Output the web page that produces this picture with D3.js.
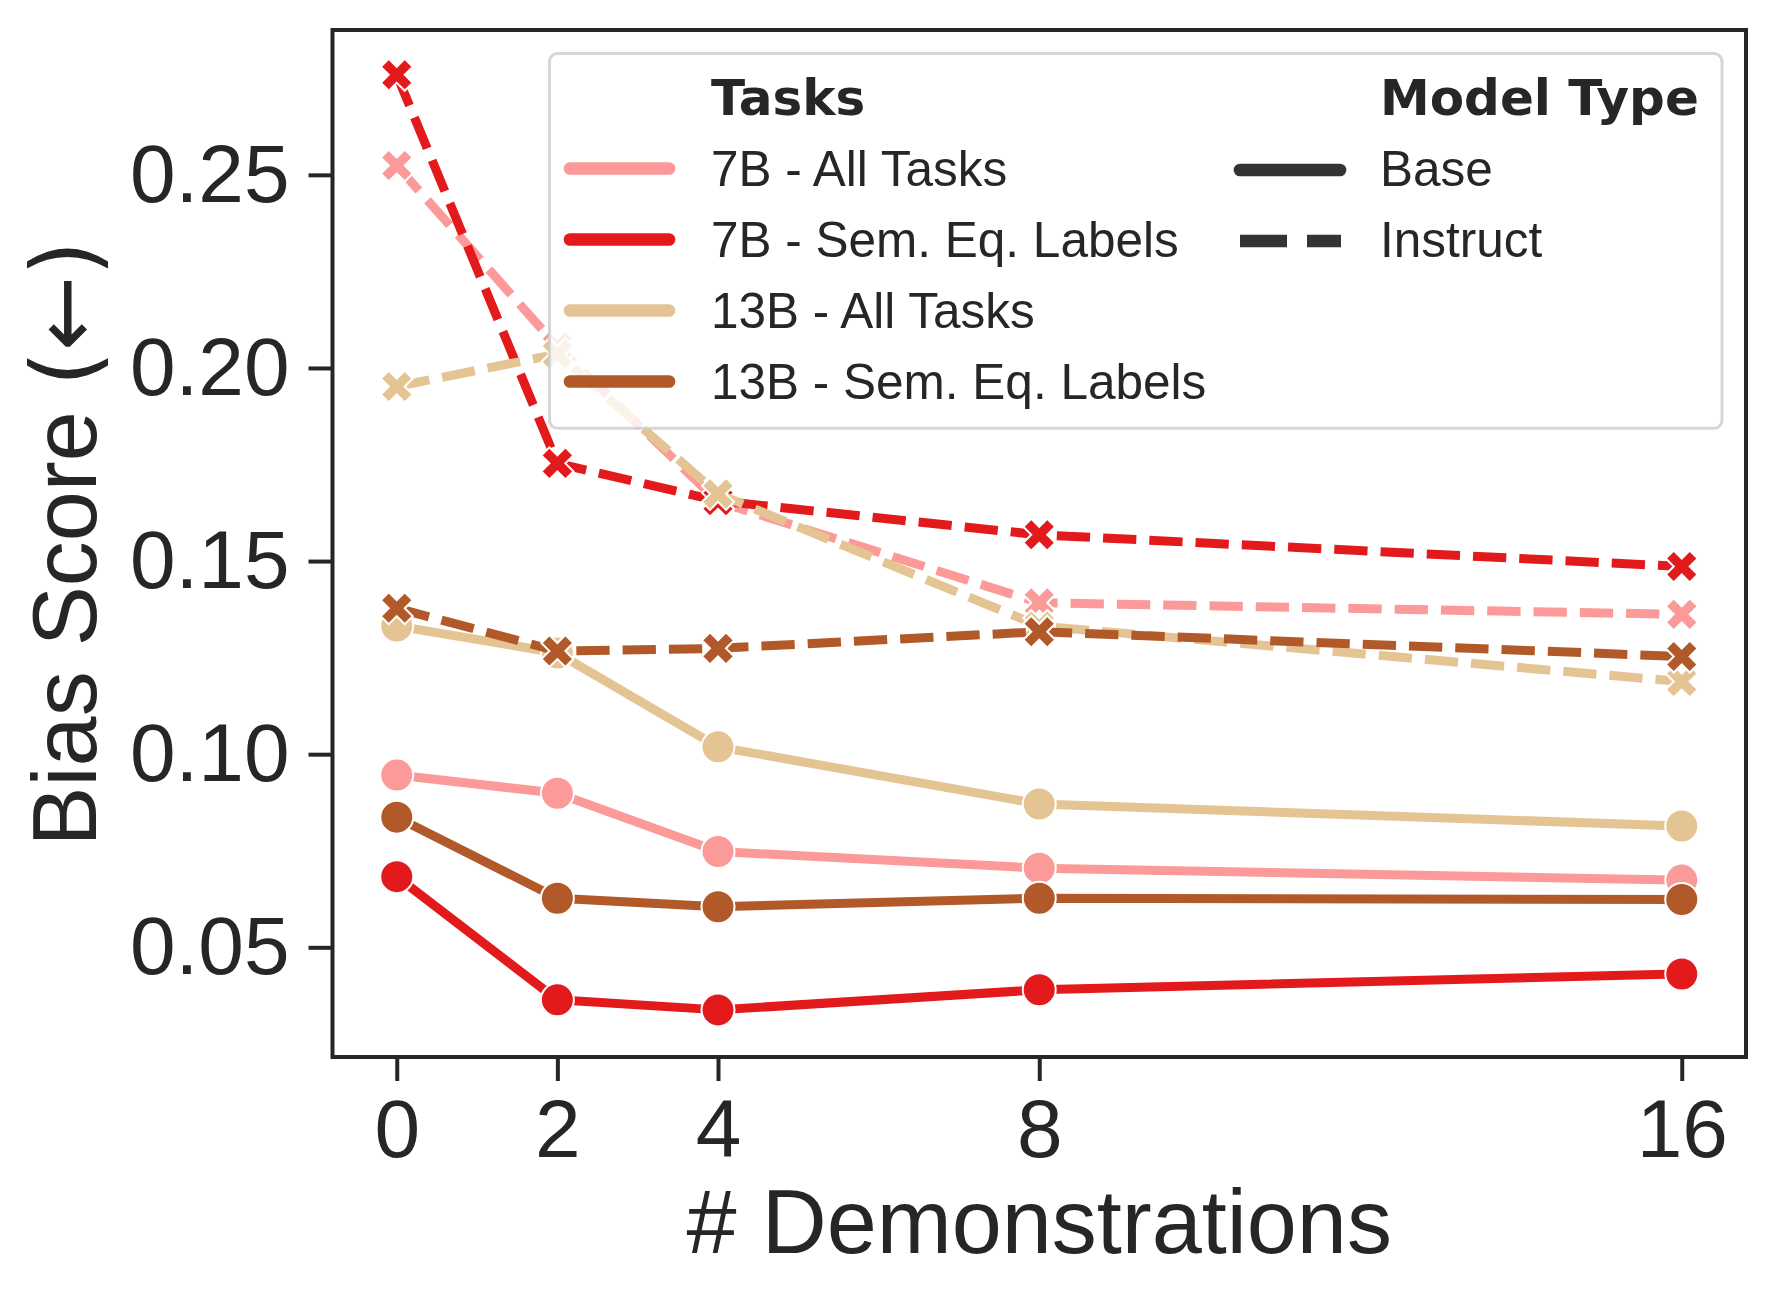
<!DOCTYPE html>
<html>
<head>
<meta charset="utf-8">
<script src="https://cdn.jsdelivr.net/npm/d3@7"></script>
<style>
  body { margin: 0; background: #fff; }
  text { fill: #262626; }
</style>
</head>
<body>
<div id="chart"></div>
<script>
// data
var shots = [0, 2, 4, 8, 16];
var yTicks = [0.05, 0.10, 0.15, 0.20, 0.25];
var tasks = ["7B - All Tasks", "7B - Sem. Eq. Labels", "13B - All Tasks", "13B - Sem. Eq. Labels"];
var taskColors = ["#fb9a99", "#e31a1c", "#e5c494", "#b15928"];
var modelTypes = ["Base", "Instruct"];

var base7All   = [0.0946, 0.0899, 0.0748, 0.0705, 0.0674];
var base7Sem   = [0.0683, 0.0364, 0.0338, 0.0390, 0.0431];
var base13All  = [0.1332, 0.1262, 0.1019, 0.0871, 0.0814];
var base13Sem  = [0.0837, 0.0627, 0.0605, 0.0627, 0.0624];
var inst7All   = [0.2524, 0.2055, 0.1654, 0.1392, 0.1362];
var inst7Sem   = [0.2759, 0.1753, 0.1656, 0.1568, 0.1486];
var inst13All  = [0.1952, 0.2036, 0.1674, 0.1332, 0.1188];
var inst13Sem  = [0.1378, 0.1267, 0.1274, 0.1317, 0.1253];

// series in seaborn draw order: hue first, then style
var series = [
  {task: 0, type: 0, values: base7All},
  {task: 0, type: 1, values: inst7All},
  {task: 1, type: 0, values: base7Sem},
  {task: 1, type: 1, values: inst7Sem},
  {task: 2, type: 0, values: base13All},
  {task: 2, type: 1, values: inst13All},
  {task: 3, type: 0, values: base13Sem},
  {task: 3, type: 1, values: inst13Sem}
];

var W = 1777, H = 1301;
var margin = {top: 30, right: 31, bottom: 244, left: 332.5};
var width = W - margin.left - margin.right;
var height = H - margin.top - margin.bottom;
var ink = "#262626";
var sans = "'Liberation Sans', Arial, sans-serif";
var lw = 9;

var svg = d3.select("#chart").append("svg")
  .attr("width", W)
  .attr("height", H)
  .style("font-family", sans);

svg.append("rect").attr("width", W).attr("height", H).attr("fill", "#fff");

var g = svg.append("g")
  .attr("transform", "translate(" + margin.left + "," + margin.top + ")");

// 5% margins like matplotlib
var xScale = d3.scaleLinear()
  .domain([-0.8, 16.8])
  .range([0, width]);

var yScale = d3.scaleLinear()
  .domain([0.0216, 0.2875])
  .range([height, 0]);

var line = d3.line()
  .x(function(d, i) { return xScale(shots[i]); })
  .y(function(d) { return yScale(d); });

// filled X marker (matplotlib "X"), unit size
var xPts = [[-1,-2],[0,-1],[1,-2],[2,-1],[1,0],[2,1],[1,2],[0,1],[-1,2],[-2,1],[-1,0],[-2,-1]];
function xMarker(s) {
  return "M" + xPts.map(function(p) { return [p[0] / 4 * s, p[1] / 4 * s].join(","); }).join("L") + "Z";
}

series.forEach(function(s) {
  var col = taskColors[s.task];
  var sg = g.append("g");

  sg.append("path")
    .datum(s.values)
    .attr("d", line)
    .attr("fill", "none")
    .attr("stroke", col)
    .attr("stroke-width", lw)
    .attr("stroke-linejoin", "round")
    .attr("stroke-linecap", s.type == 0 ? "square" : "butt")
    .attr("stroke-dasharray", s.type == 0 ? null : "33.3 13");

  var pts = sg.selectAll(".pt")
    .data(s.values)
    .enter()
    .append("g")
    .attr("class", "pt")
    .attr("transform", function(d, i) { return "translate(" + xScale(shots[i]) + "," + yScale(d) + ")"; });

  if (s.type == 0) {
    pts.append("circle")
      .attr("r", 16.5)
      .attr("fill", col)
      .attr("stroke", "#fff")
      .attr("stroke-width", 2);
  } else {
    pts.append("path")
      .attr("d", xMarker(32))
      .attr("fill", col)
      .attr("stroke", "#fff")
      .attr("stroke-width", 2)
      .attr("stroke-linejoin", "miter");
  }
});

// axes frame
g.append("rect")
  .attr("width", width)
  .attr("height", height)
  .attr("fill", "none")
  .attr("stroke", ink)
  .attr("stroke-width", 4);

// x axis
var xAxis = g.append("g")
  .attr("transform", "translate(0," + height + ")")
  .call(d3.axisBottom(xScale).tickValues(shots).tickSize(24).tickPadding(18).tickFormat(d3.format("d")));
xAxis.select(".domain").remove();
xAxis.selectAll(".tick line").attr("stroke", ink).attr("stroke-width", 4);
xAxis.selectAll(".tick text")
  .attr("fill", ink)
  .style("font-family", sans)
  .style("font-size", "82px");

// y axis
var yAxis = g.append("g")
  .call(d3.axisLeft(yScale).tickValues(yTicks).tickSize(24).tickPadding(19).tickFormat(d3.format(".2f")));
yAxis.select(".domain").remove();
yAxis.selectAll(".tick line").attr("stroke", ink).attr("stroke-width", 4);
yAxis.selectAll(".tick text")
  .attr("fill", ink)
  .style("font-family", sans)
  .style("font-size", "82px");

// axis labels
svg.append("text")
  .attr("x", margin.left + width / 2)
  .attr("y", 1253)
  .attr("text-anchor", "middle")
  .style("font-size", "90px")
  .text("# Demonstrations");

var ylab = svg.append("text")
  .attr("transform", "translate(96,543.5) rotate(-90)")
  .attr("text-anchor", "middle")
  .style("font-size", "90px");
ylab.append("tspan").text("Bias Score ");
ylab.append("tspan").style("font-family", "'DejaVu Sans', sans-serif").text("(\u2190)");

// legend
var leg = svg.append("g");

leg.append("rect")
  .attr("x", 549.5)
  .attr("y", 53.5)
  .attr("width", 1722 - 549.5)
  .attr("height", 428.3 - 53.5)
  .attr("rx", 8)
  .attr("fill", "#fff")
  .attr("fill-opacity", 0.8)
  .attr("stroke", "#cccccc")
  .attr("stroke-opacity", 0.8)
  .attr("stroke-width", 3);

var rowY = [168.5, 239.5, 310.5, 381.5];
var legFont = "49.5px";

leg.append("text")
  .attr("x", 711)
  .attr("y", 115)
  .style("font-family", "'DejaVu Sans', sans-serif")
  .style("font-weight", "bold")
  .style("font-size", "50px")
  .text("Tasks");

tasks.forEach(function(t, i) {
  leg.append("line")
    .attr("x1", 570).attr("x2", 669)
    .attr("y1", rowY[i]).attr("y2", rowY[i])
    .attr("stroke", taskColors[i])
    .attr("stroke-width", 12.7)
    .attr("stroke-linecap", "round");
  leg.append("text")
    .attr("x", 711)
    .attr("y", rowY[i] + 17)
    .style("font-size", legFont)
    .text(t);
});

leg.append("text")
  .attr("x", 1380)
  .attr("y", 115)
  .style("font-family", "'DejaVu Sans', sans-serif")
  .style("font-weight", "bold")
  .style("font-size", "50px")
  .text("Model Type");

modelTypes.forEach(function(m, i) {
  var y = rowY[i] + 1.5;
  leg.append("line")
    .attr("x1", 1240).attr("x2", i == 0 ? 1340 : 1341)
    .attr("y1", y).attr("y2", y)
    .attr("stroke", "#333333")
    .attr("stroke-width", 12.7)
    .attr("stroke-linecap", i == 0 ? "round" : "butt")
    .attr("stroke-dasharray", i == 0 ? null : "47 20");
  leg.append("text")
    .attr("x", 1380)
    .attr("y", rowY[i] + 17)
    .style("font-size", legFont)
    .text(m);
});
</script>
</body>
</html>
